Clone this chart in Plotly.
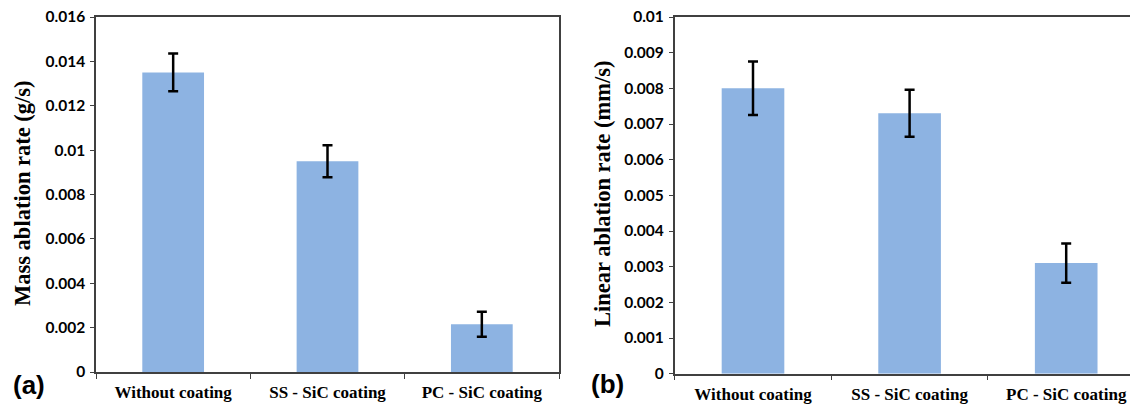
import plotly.graph_objects as go

# The page body has an 8px default margin; the figure is sized to fill the rest of the window.
OFF = 8
W, H = 1138 - OFF, 408 - OFF

categories = ["Without coating", "SS - SiC coating", "PC - SiC coating"]

mass_rate = [0.0135, 0.0095, 0.00215]
mass_err = [0.00085, 0.00072, 0.00056]

linear_rate = [0.0080, 0.0073, 0.0031]
linear_err = [0.00075, 0.00066, 0.00055]

mass_ticks = [0, 0.002, 0.004, 0.006, 0.008, 0.01, 0.012, 0.014, 0.016]
mass_ticktext = ["0", "0.002", "0.004", "0.006", "0.008", "0.01", "0.012", "0.014", "0.016"]

linear_ticks = [0, 0.001, 0.002, 0.003, 0.004, 0.005, 0.006, 0.007, 0.008, 0.009, 0.01]
linear_ticktext = ["0", "0.001", "0.002", "0.003", "0.004", "0.005", "0.006", "0.007",
                   "0.008", "0.009", "0.01"]

BAR_COLOR = "#8DB3E2"
LINE_COLOR = "#404040"

def px_x(p):
    return (p - OFF) / W

def px_y(p):
    return (H - (p - OFF)) / H

fig = go.Figure()

err_style = dict(type="data", color="black", thickness=2.5, width=5, visible=True)

fig.add_trace(go.Bar(
    x=categories, y=mass_rate, xaxis="x", yaxis="y",
    marker=dict(color=BAR_COLOR, line=dict(width=0)), width=0.4,
    error_y=dict(array=mass_err, **err_style), showlegend=False,
))
fig.add_trace(go.Bar(
    x=categories, y=linear_rate, xaxis="x2", yaxis="y2",
    marker=dict(color=BAR_COLOR, line=dict(width=0)), width=0.4,
    error_y=dict(array=linear_err, **err_style), showlegend=False,
))

tickfont = dict(family="Lato, Open Sans, sans-serif", size=15.5, color="black", weight="bold")
catfont = dict(family="Liberation Serif, Times New Roman, serif", size=17, color="black", weight="bold")

common_x = dict(type="category", showline=True, linecolor=LINE_COLOR, linewidth=1.5,
                ticks="outside", tickson="boundaries", ticklen=5, tickcolor=LINE_COLOR,
                tickfont=catfont, showgrid=False, zeroline=False, ticklabelstandoff=4,
                fixedrange=True, automargin=False, ticklabeloverflow="allow")
common_y = dict(showline=True, linecolor=LINE_COLOR, linewidth=1.5, ticks="outside",
                ticklen=4, tickcolor=LINE_COLOR, tickfont=tickfont, showgrid=False,
                zeroline=False, tickmode="array", fixedrange=True, automargin=False,
                ticklabelstandoff=2, ticklabeloverflow="allow")

left_x0, left_x1 = 96, 559
right_x0 = 674.7
cat_w_right = 156.6
right_range_end = (1138 - right_x0) / cat_w_right - 0.5

fig.update_layout(
    width=W, height=H,
    margin=dict(l=0, r=0, t=0, b=0, autoexpand=False),
    paper_bgcolor="white", plot_bgcolor="white",
    bargap=0.6,
    xaxis=dict(domain=[px_x(left_x0), px_x(left_x1)], anchor="y", range=[-0.5, 2.5],
               mirror=True, **common_x),
    yaxis=dict(domain=[px_y(372), px_y(17)], anchor="x", range=[0, 0.016],
               tickvals=mass_ticks, ticktext=mass_ticktext, mirror=True, **common_y),
    xaxis2=dict(domain=[px_x(right_x0), 1.0], anchor="y2", range=[-0.5, right_range_end],
                mirror=True, **common_x),
    yaxis2=dict(domain=[px_y(373.7), px_y(17)], anchor="x2", range=[0, 0.01],
                tickvals=linear_ticks, ticktext=linear_ticktext, mirror=False, **common_y),
)

titlefont = dict(family="Liberation Serif, Times New Roman, serif", size=22.5, color="black", weight="bold")
labelfont = dict(family="Liberation Sans, Arial, sans-serif", size=26, color="black", weight="bold")

fig.add_annotation(text="Mass ablation rate (g/s)", textangle=-90, xref="paper", yref="paper",
                   x=px_x(22), y=px_y(193), xanchor="center", yanchor="middle",
                   showarrow=False, font=titlefont)
fig.add_annotation(text="Linear ablation rate (mm/s)", textangle=-90, xref="paper", yref="paper",
                   x=px_x(602), y=px_y(194), xanchor="center", yanchor="middle",
                   showarrow=False, font=titlefont)
fig.add_annotation(text="(a)", xref="paper", yref="paper", x=px_x(29), y=px_y(385),
                   xanchor="center", yanchor="middle", showarrow=False, font=labelfont)
fig.add_annotation(text="(b)", xref="paper", yref="paper", x=px_x(607), y=px_y(384),
                   xanchor="center", yanchor="middle", showarrow=False, font=labelfont)

fig.write_html("out.html")
